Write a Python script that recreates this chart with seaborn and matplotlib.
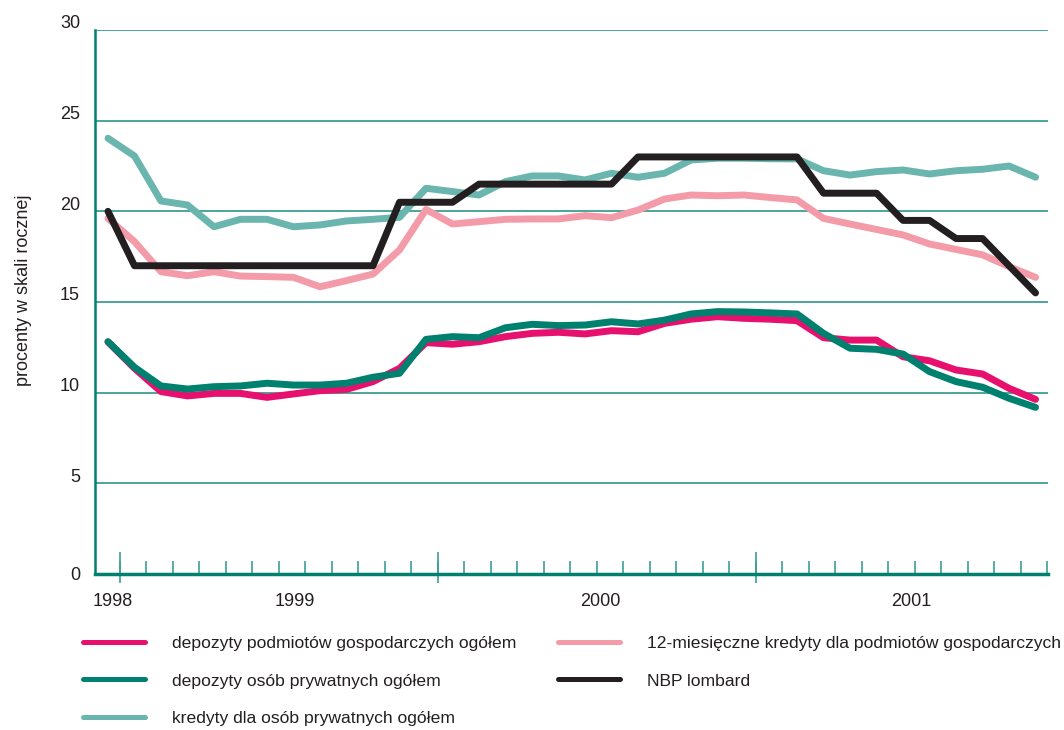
import numpy as np
import pandas as pd
import matplotlib
matplotlib.use("Agg")
import matplotlib.pyplot as plt
import matplotlib.transforms as mtransforms
from matplotlib.lines import Line2D
import seaborn as sns

# monthly observations, 36 points
months = np.arange(36)

dep_podmiotow = [12.8, 11.34, 10.06, 9.82, 9.96, 9.96, 9.74, 9.93, 10.11, 10.18, 10.61, 11.34,
                 12.76, 12.67, 12.81, 13.09, 13.27, 13.33, 13.24, 13.42, 13.36, 13.82, 14.05, 14.19,
                 14.1, 14.05, 13.97, 13.03, 12.9, 12.9, 11.98, 11.76, 11.25, 11.03, 10.24, 9.63]
dep_osob = [12.81, 11.4, 10.37, 10.2, 10.33, 10.37, 10.52, 10.42, 10.42, 10.52, 10.85, 11.07,
            12.94, 13.09, 13.03, 13.58, 13.77, 13.7, 13.73, 13.91, 13.79, 14.0, 14.34, 14.47,
            14.45, 14.4, 14.34, 13.27, 12.45, 12.39, 12.13, 11.16, 10.61, 10.3, 9.69, 9.19]
kred_osob = [24.03, 23.05, 20.57, 20.35, 19.15, 19.56, 19.56, 19.15, 19.25, 19.47, 19.56, 19.67,
             21.27, 21.09, 20.9, 21.64, 21.95, 21.95, 21.73, 22.1, 21.88, 22.1, 22.83, 22.93,
             22.93, 22.9, 22.89, 22.24, 22.0, 22.19, 22.28, 22.06, 22.24, 22.32, 22.5, 21.88]
kred_12m = [19.61, 18.33, 16.67, 16.45, 16.67, 16.43, 16.4, 16.36, 15.84, 16.18, 16.54, 17.87,
            20.1, 19.3, 19.43, 19.56, 19.58, 19.58, 19.76, 19.65, 20.07, 20.68, 20.9, 20.86,
            20.9, 20.76, 20.63, 19.61, 19.3, 19.0, 18.7, 18.2, 17.9, 17.6, 16.95, 16.36]
lombard = [20.0, 17.0, 17.0, 17.0, 17.0, 17.0, 17.0, 17.0, 17.0, 17.0, 17.0, 20.5,
           20.5, 20.5, 21.5, 21.5, 21.5, 21.5, 21.5, 21.5, 23.0, 23.0, 23.0, 23.0,
           23.0, 23.0, 23.0, 21.0, 21.0, 21.0, 19.5, 19.5, 18.5, 18.5, 17.0, 15.5]

names = ["depozyty podmiotów gospodarczych ogółem",
         "depozyty osób prywatnych ogółem",
         "kredyty dla osób prywatnych ogółem",
         "12-miesięczne kredyty dla podmiotów gospodarczych",
         "NBP lombard"]
colors = ["#E8106E", "#00806F", "#6AB6AF", "#F49BAA", "#231F20"]

year_labels = ["1998", "1999", "2000", "2001"]
year_label_pos = [0.19, 7.06, 18.57, 30.3]
tick_offset = 0.45

df = pd.concat([
    pd.DataFrame({"miesiac": months, "wartosc": vals, "seria": name})
    for name, vals in zip(names, [dep_podmiotow, dep_osob, kred_osob, kred_12m, lombard])
])

sns.set_theme(style="white")
plt.rcParams["font.family"] = ["Liberation Sans", "DejaVu Sans"]
plt.rcParams["text.color"] = "#231F20"

fig = plt.figure(figsize=(10.64, 7.3), dpi=100)
ax = fig.add_axes([95 / 1064, 1 - 574 / 730, (1048 - 95) / 1064, (574 - 30) / 730])

draw_order = [names[2], names[3], names[4], names[0], names[1]]
palette = dict(zip(names, colors))
sns.lineplot(data=df, x="miesiac", y="wartosc", hue="seria", hue_order=draw_order,
             palette=palette, linewidth=5, legend=False, ax=ax,
             solid_capstyle="round", solid_joinstyle="round")

ax.set_xlim(-0.49, 35.47)
ax.set_ylim(0, 30)
ax.set_xlabel("")
ax.set_ylabel("procenty w skali rocznej", fontsize=13, color="#231F20")
ax.yaxis.set_label_coords(-0.066, 0.522)

grid_c = "#3D9E93"
spine_c = "#00806F"
ax.set_yticks([0, 5, 10, 15, 20, 25, 30])
ax.set_yticklabels(["0", "5", "10", "15", "20", "25", "30"])
ax.tick_params(axis="y", length=0, pad=10.8, labelsize=13, labelcolor="#231F20")
ax.yaxis.grid(True, color=grid_c, linewidth=1.3)
ax.xaxis.grid(False)
for t in ax.yaxis.get_major_ticks()[1:]:
    t.label1.set_transform(t.label1.get_transform() +
                           mtransforms.ScaledTranslation(0, 8 / 100, fig.dpi_scale_trans))

ax.set_xticks(year_label_pos)
ax.set_xticklabels(year_labels)
ax.tick_params(axis="x", which="major", bottom=True, length=0, pad=13.5, labelsize=13,
               labelcolor="#231F20")
ax.set_xticks(months + tick_offset, minor=True)
ax.tick_params(axis="x", which="minor", bottom=True, direction="in", length=9.4, width=1.2,
               color=grid_c)
# longer year ticks crossing the axis
ax.vlines(months[::12] + tick_offset, -0.0165, 0.0404, transform=ax.get_xaxis_transform(),
          color=grid_c, linewidth=1.2, clip_on=False)

for s in ["top", "right"]:
    ax.spines[s].set_visible(False)
ax.spines["left"].set_color(spine_c)
ax.spines["left"].set_linewidth(1.8)
ax.spines["bottom"].set_color(spine_c)
ax.spines["bottom"].set_linewidth(2.5)

handles = [Line2D([], [], color=c, linewidth=3.6) for c in colors]
leg_kw = dict(loc="upper left", frameon=False, fontsize=12.6, borderpad=0, borderaxespad=0,
              handlelength=3.54, handletextpad=1.54, labelspacing=1.26)
fig.legend(handles[:3], names[:3], bbox_to_anchor=(83 / 1064, 94 / 730), **leg_kw)
fig.legend(handles[3:], names[3:], bbox_to_anchor=(558 / 1064, 94 / 730), **leg_kw)

fig.savefig("out.png", dpi=100)
